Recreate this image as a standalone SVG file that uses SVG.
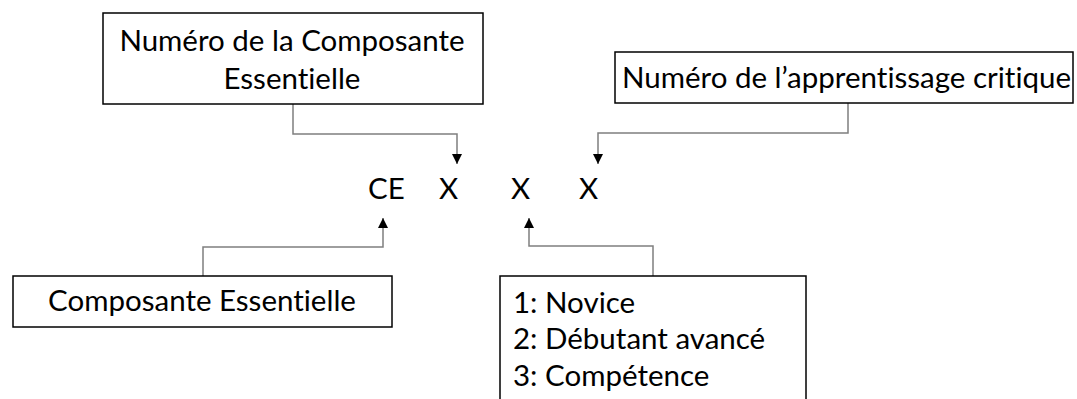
<svg xmlns="http://www.w3.org/2000/svg" width="1077" height="399" viewBox="0 0 1077 399">
<style>
.box{fill:#fff;stroke:#000;stroke-width:1.5}
.t{font-family:Lato,"Open Sans",sans-serif;font-size:29.5px;fill:#000;font-variant-ligatures:none}
.c{fill:none;stroke:#7f7f7f;stroke-width:1.5}
</style>
<defs>
<marker id="ah" markerWidth="10" markerHeight="10" refX="10" refY="5" orient="auto" markerUnits="userSpaceOnUse" viewBox="0 0 10 10">
<path d="M0,0 L10,5 L0,10 z" fill="#000"/>
</marker>
</defs>
<rect width="1077" height="399" fill="#fff"/>
<g id="connectors">
<path class="c" d="M293,104 V134 H457 V164" marker-end="url(#ah)"/>
<path class="c" d="M848,103 V133 H598 V164" marker-end="url(#ah)"/>
<path class="c" d="M203,276 V247 H383 V218" marker-end="url(#ah)"/>
<path class="c" d="M653,276 V246 H529 V218" marker-end="url(#ah)"/>
</g>
<g id="n1">
<rect class="box" x="103" y="13" width="380" height="91"/>
<text class="t" x="292" y="51" text-anchor="middle">Numéro de la Composante</text>
<text class="t" x="292" y="89" text-anchor="middle">Essentielle</text>
</g>
<g id="n2">
<rect class="box" x="615" y="52" width="458" height="51"/>
<text class="t" x="622" y="88">Numéro de l’apprentissage critique</text>
</g>
<g id="code">
<text class="t" x="368" y="199">CE</text>
<text class="t" x="439" y="199">X</text>
<text class="t" x="511" y="199">X</text>
<text class="t" x="579" y="199">X</text>
</g>
<g id="n3">
<rect class="box" x="13" y="276" width="379" height="51"/>
<text class="t" x="202" y="311" text-anchor="middle">Composante Essentielle</text>
</g>
<g id="n4">
<rect class="box" x="500" y="276" width="306" height="130"/>
<text class="t" x="513" y="313">1: Novice</text>
<text class="t" x="513" y="349">2: Débutant avancé</text>
<text class="t" x="513" y="386">3: Compétence</text>
</g>
</svg>
